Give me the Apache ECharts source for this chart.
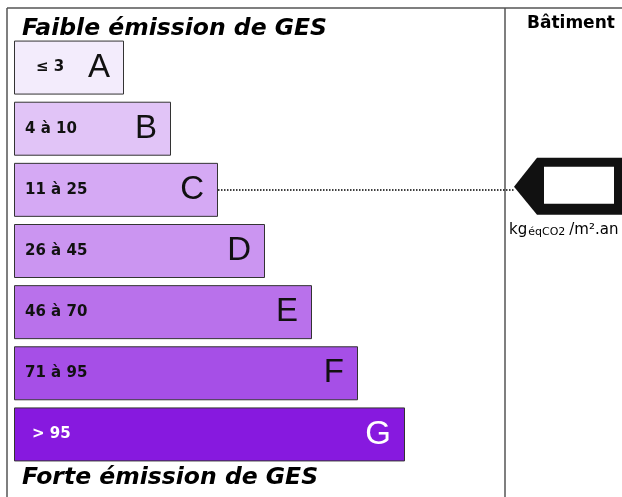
<!DOCTYPE html>
<html>
<head>
<meta charset="utf-8">
<script src="https://cdn.jsdelivr.net/npm/echarts@6/dist/echarts.min.js"></script>
<style>
  html, body { margin: 0; padding: 0; background: #fff; }
  #main { width: 622px; height: 497px; }
</style>
</head>
<body>
<div id="main"></div>
<script>
// classes GES
var classes = ['A', 'B', 'C', 'D', 'E', 'F', 'G'];
var ranges = ['≤ 3', '4 à 10', '11 à 25', '26 à 45', '46 à 70', '71 à 95', '> 95'];
// longueur relative des barres (echelle 0-100)
var barLength = [22, 31.4, 40.8, 50.2, 59.6, 68.8, 78.2];
var barColors = ['#f3ecfc', '#e1c4f7', '#d5a9f4', '#cb95f1', '#b971eb', '#a64fe7', '#8719df'];
var textColors = ['#111', '#111', '#111', '#111', '#111', '#111', '#fff'];
var currentClass = 'C';

var myChart = echarts.init(document.getElementById('main'));

var idx = classes.indexOf(currentClass);

var option = {
	animation: false,
	title: [{
			text: 'Faible émission de GES',
			left: 17,
			top: 12,
			textStyle: {
				fontFamily: 'DejaVu Sans',
				fontStyle: 'italic',
				fontWeight: 'bold',
				fontSize: 23.5,
				color: '#000'
			}
		},
		{
			text: 'Forte émission de GES',
			left: 17,
			top: 461,
			textStyle: {
				fontFamily: 'DejaVu Sans',
				fontStyle: 'italic',
				fontWeight: 'bold',
				fontSize: 23.5,
				color: '#000'
			}
		},
		{
			text: 'Bâtiment',
			left: 522,
			top: 10,
			textStyle: {
				fontFamily: 'DejaVu Sans',
				fontWeight: 'bold',
				fontSize: 17,
				color: '#000'
			}
		}
	],
	grid: {
		left: 14,
		top: 37,
		width: 500,
		height: 428
	},
	xAxis: {
		type: 'value',
		min: 0,
		max: 100,
		show: false
	},
	yAxis: {
		type: 'category',
		data: classes,
		inverse: true,
		show: false
	},
	series: [{
			name: 'classe',
			type: 'bar',
			barWidth: 54,
			data: barLength.map(function(v, i) {
				return {
					value: v,
					itemStyle: {
						color: barColors[i]
					},
					label: {
						color: textColors[i],
						distance: i == 0 ? 22 : (i == 6 ? 18 : 11)
					}
				};
			}),
			itemStyle: {
				borderColor: '#333',
				borderWidth: 1
			},
			label: {
				show: true,
				position: 'insideLeft',
				fontFamily: 'DejaVu Sans',
				fontWeight: 'bold',
				fontSize: 15,
				formatter: function(p) {
					return ranges[p.dataIndex];
				}
			},
			markLine: {
				silent: true,
				symbol: 'none',
				label: {
					show: false
				},
				lineStyle: {
					type: 'dotted',
					color: '#000',
					width: 1.5
				},
				data: [
					[{
						coord: [barLength[idx], currentClass]
					}, {
						coord: [100, currentClass]
					}]
				]
			}
		},
		{
			name: 'lettre',
			type: 'bar',
			barWidth: 54,
			barGap: '-100%',
			silent: true,
			data: barLength.map(function(v, i) {
				return {
					value: v,
					label: {
						color: textColors[i]
					}
				};
			}),
			itemStyle: {
				color: 'rgba(0,0,0,0)'
			},
			label: {
				show: true,
				position: 'insideRight',
				distance: 14,
				fontFamily: 'Liberation Sans',
				fontSize: 33,
				formatter: function(p) {
					return classes[p.dataIndex];
				}
			}
		}
	]
};
myChart.setOption(option);

// cadre, separateur et fleche du batiment
var tip = myChart.convertToPixel({
	gridIndex: 0
}, [100, currentClass]);
var tx = tip[0],
	ty = tip[1] - 3;
myChart.setOption({
	graphic: [{
			type: 'line',
			shape: { x1: 7, y1: 8, x2: 7, y2: 497 },
			style: { stroke: '#555', lineWidth: 1.5 }
		},
		{
			type: 'line',
			shape: { x1: 7, y1: 8, x2: 622, y2: 8 },
			style: { stroke: '#555', lineWidth: 1.5 }
		},
		{
			type: 'line',
			shape: { x1: 505, y1: 8, x2: 505, y2: 497 },
			style: { stroke: '#555', lineWidth: 1.5 }
		},
		{
			type: 'polygon',
			shape: {
				points: [[tx, ty], [tx + 23, ty - 29], [tx + 130, ty - 29], [tx + 130, ty + 28], [tx + 23, ty + 28]]
			},
			style: { fill: '#111' }
		},
		{
			type: 'rect',
			shape: { x: tx + 30, y: ty - 20, width: 70, height: 37 },
			style: { fill: '#fff' }
		},
		{
			type: 'text',
			x: 509,
			y: ty + 36,
			style: {
				text: '{u|kg}{s|éqCO2}{u|/m².an}',
				rich: {
					u: { fontFamily: 'DejaVu Sans', fontSize: 15, color: '#000', verticalAlign: 'bottom' },
					s: { fontFamily: 'DejaVu Sans', fontSize: 11, color: '#000', verticalAlign: 'bottom', padding: [0, 4, 0, 1] }
				}
			}
		}
	]
});
</script>
</body>
</html>
